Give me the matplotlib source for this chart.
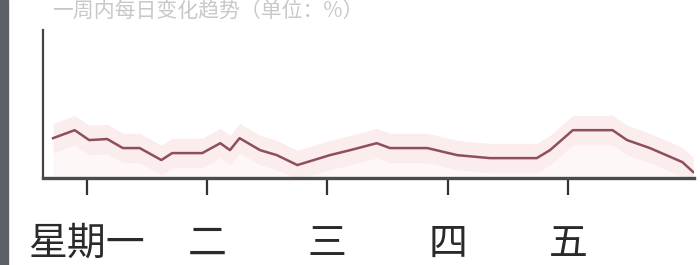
import matplotlib
matplotlib.use("Agg")
import matplotlib.pyplot as plt
from matplotlib.patches import Rectangle

plt.rcParams['font.family'] = ['Noto Sans CJK SC', 'DejaVu Sans']

# data: time in days (0 = 星期一), value
days = [-0.28, -0.10, 0.02, 0.17, 0.30, 0.44, 0.62, 0.71, 0.96, 1.11, 1.19, 1.27,
        1.44, 1.58, 1.75, 1.94, 2.02, 2.19, 2.41, 2.52, 2.83, 3.08, 3.35, 3.74,
        3.85, 4.04, 4.37, 4.49, 4.68, 4.95, 5.04]
values = [27.0, 32.4, 25.7, 26.4, 20.3, 20.3, 12.2, 16.9, 16.9, 23.6, 18.9, 27.0,
          18.9, 15.5, 8.8, 13.5, 15.5, 18.9, 23.6, 20.3, 20.3, 15.5, 13.5, 13.5,
          18.9, 32.4, 32.4, 25.7, 20.3, 10.8, 4.1]
tick_pos = [0, 1, 2, 3, 4]
tick_labels = ['星期一', '二', '三', '四', '五']
title_text = '一周内每日变化趋势（单位：%）'

fig = plt.figure(figsize=(7, 2.65), dpi=100)
ax = fig.add_axes([0.061, 0.328, 0.931, 0.558])

upper = [v + 10 for v in values]
lower = [max(v - 10, 0) for v in values]
ax.fill_between(days, lower, upper, color='#f6c9d0', alpha=0.35, lw=0)
ax.fill_between(days, 0, lower, color='#fbe6ea', alpha=0.3, lw=0)
ax.plot(days, values, color='#8e4f5a', lw=1.8, solid_joinstyle='round')

ax.set_xlim(-0.366, 5.05)
ax.set_ylim(0, 100)
ax.set_xticks(tick_pos)
ax.set_xticklabels(tick_labels, fontsize=28, color='#2a2a2a')
ax.tick_params(axis='x', length=12, width=1.6, color='#333333', pad=21)
ax.set_yticks([])
for s in ['top', 'right']:
    ax.spines[s].set_visible(False)
ax.spines['left'].set_linewidth(1.6)
ax.spines['left'].set_color('#444444')
ax.spines['bottom'].set_linewidth(2.4)
ax.spines['bottom'].set_color('#4a4a4a')

fig.patches.append(Rectangle((0, 0), 8 / 700, 1, transform=fig.transFigure,
                             color='#5c6168', zorder=10))
fig.text(52 / 700, 0.997, title_text, fontsize=15, color='#c8c8c8',
         ha='left', va='top')

fig.savefig('out.png', dpi=100)
